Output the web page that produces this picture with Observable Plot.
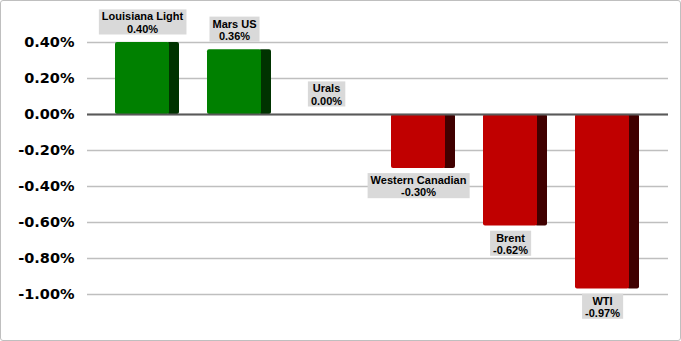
<!DOCTYPE html>
<html>
<head>
<meta charset="utf-8">
<script src="https://cdn.jsdelivr.net/npm/d3@7"></script>
<script src="https://cdn.jsdelivr.net/npm/@observablehq/plot@0.6"></script>
<style>
  body { margin: 0; background: #fff; }
  #wrap { position: relative; width: 681px; height: 341px; }
  #frame { position: absolute; left: 0; top: 0; width: 681px; height: 341px; box-sizing: border-box; border: 1px solid #bfbfbf; border-radius: 3px; pointer-events: none; }
</style>
</head>
<body>
<div id="wrap"><div id="frame"></div></div>
<script>
const categories = ["Louisiana Light", "Mars US", "Urals", "Western Canadian", "Brent", "WTI"];
const values = [0.40, 0.36, 0.00, -0.30, -0.62, -0.97];
const yTicks = [0.4, 0.2, 0, -0.2, -0.4, -0.6, -0.8, -1.0];

const data = categories.map((name, i) => ({name, value: values[i]}));
const pos = data.filter(d => d.value >= 0);
const neg = data.filter(d => d.value < 0);
const fmt = d => d.toFixed(2) + "%";
const label = d => `${d.name}\n${fmt(d.value)}`;

const chart = Plot.plot({
  width: 681,
  height: 341,
  marginLeft: 87,
  marginRight: 13,
  marginTop: 42,
  marginBottom: 47,
  style: {fontFamily: "Liberation Sans, Arial, sans-serif", background: "transparent"},
  x: {domain: categories, paddingInner: 0.3, paddingOuter: 0.302, axis: null},
  y: {domain: [-1.0, 0.4], axis: null},
  marks: [
    Plot.gridY(yTicks, {stroke: "#bfbfbf", strokeOpacity: 1, strokeWidth: 1.5}),
    Plot.axisY(yTicks, {tickSize: 0, tickPadding: 13, tickFormat: fmt, label: null,
      fontSize: 14.5, fontWeight: "bold", fontFamily: "DejaVu Sans", fill: "#000"}),
    Plot.barY(pos, {x: "name", y: "value", fill: "#003300", insetLeft: 52, rx: 2}),
    Plot.barY(neg, {x: "name", y: "value", fill: "#400000", insetLeft: 52, rx: 2}),
    Plot.barY(pos, {x: "name", y: "value", fill: "#008000", insetRight: 10, rx: 2}),
    Plot.barY(neg, {x: "name", y: "value", fill: "#c00000", insetRight: 10, rx: 2}),
    Plot.ruleY([0], {stroke: "#595959", strokeWidth: 2}),
    Plot.text(pos, {x: "name", y: "value", text: label, lineAnchor: "bottom", dx: -5, dy: -10,
      fontSize: 11, fontWeight: "bold", lineHeight: 1.1, fill: "#000"}),
    Plot.text(neg, {x: "name", y: "value", text: label, lineAnchor: "top", dx: -5, dy: 7,
      fontSize: 11, fontWeight: "bold", lineHeight: 1.1, fill: "#000"})
  ]
});

document.getElementById("wrap").prepend(chart);

const ns = "http://www.w3.org/2000/svg";
chart.querySelectorAll('g[aria-label="text"] text').forEach(t => {
  const b = t.getBBox();
  const r = document.createElementNS(ns, "rect");
  r.setAttribute("x", b.x - 3);
  r.setAttribute("y", b.y - 1);
  r.setAttribute("width", b.width + 6);
  r.setAttribute("height", b.height + 1);
  r.setAttribute("fill", "#d9d9d9");
  const tr = t.getAttribute("transform");
  if (tr) r.setAttribute("transform", tr);
  t.parentNode.insertBefore(r, t);
});
</script>
</body>
</html>
